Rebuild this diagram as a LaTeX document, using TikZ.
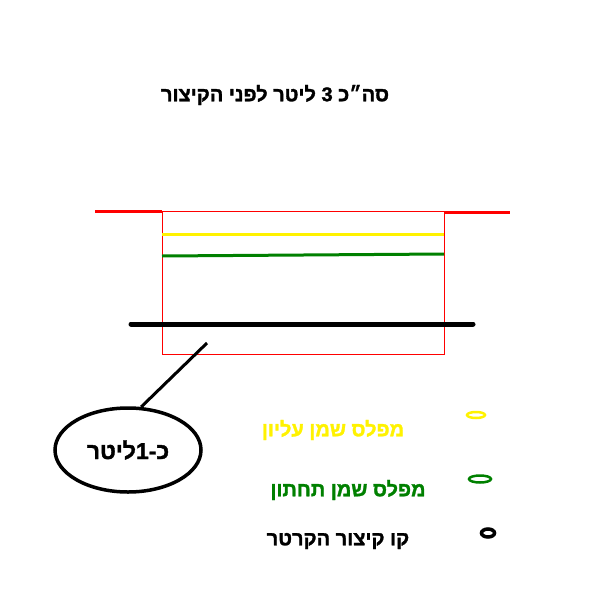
\documentclass[tikz,border=0pt]{standalone}
\usepackage{fontspec}
\newfontfamily\hebfont[Script=Hebrew,FakeBold=1.5]{Liberation Sans Bold}
\TeXXeTstate=1
\usetikzlibrary{shapes.geometric}
\newcommand{\heb}[1]{{\hebfont\beginR #1\endR}}

\begin{document}
\begin{tikzpicture}[x=1pt,y=-1pt,
  level line/.style={line width=3pt},
  crank line/.style={line width=5pt,line cap=round},
  label text/.style={font=\fontsize{20}{23}\selectfont,inner sep=0pt},
  legend oval/.style={ellipse,draw,inner sep=0pt},
  ]
  \useasboundingbox (0,0) rectangle (601,594);

  \node[label text] (title) at (275,95) {\heb{סה״כ 3 ליטר לפני הקיצור}};

  % the sump and its levels
  \draw[red,level line] (95,211) -- (162,211);
  \draw[red,level line] (445,212) -- (510,212);
  \draw[red] (162,211) rectangle (444,354);
  \draw[yellow,level line] (162,234) -- (444,234);
  \draw[green!50!black,level line] (162,256) -- (444,254);
  \draw[crank line] (131,324) -- (473,324);

  \coordinate (pointer) at (207,343);
  \node[ellipse,draw,line width=3.5pt,minimum width=146pt,minimum height=84pt,label text,font=\fontsize{23}{26}\selectfont] (amount) at (128,450) {\heb{כ-1ליטר}};
  \draw[line width=3pt] (pointer) -- (amount.73);

  % legend
  \node[label text,text=yellow] (upper) at (333,430) {\heb{מפלס שמן עליון}};
  \node[legend oval,yellow,line width=2.5pt,minimum width=18pt,minimum height=6pt] (upper mark) at (476,415) {};
  \node[label text,text=green!50!black] (lower) at (348,490) {\heb{מפלס שמן תחתון}};
  \node[legend oval,green!50!black,line width=2.5pt,minimum width=22pt,minimum height=7pt] (lower mark) at (480,479) {};
  \node[label text] (crank) at (338,541) {\heb{קו קיצור הקרטר}};
  \node[legend oval,line width=3.5pt,minimum width=13pt,minimum height=8pt] (crank mark) at (488,533) {};
\end{tikzpicture}
\end{document}
